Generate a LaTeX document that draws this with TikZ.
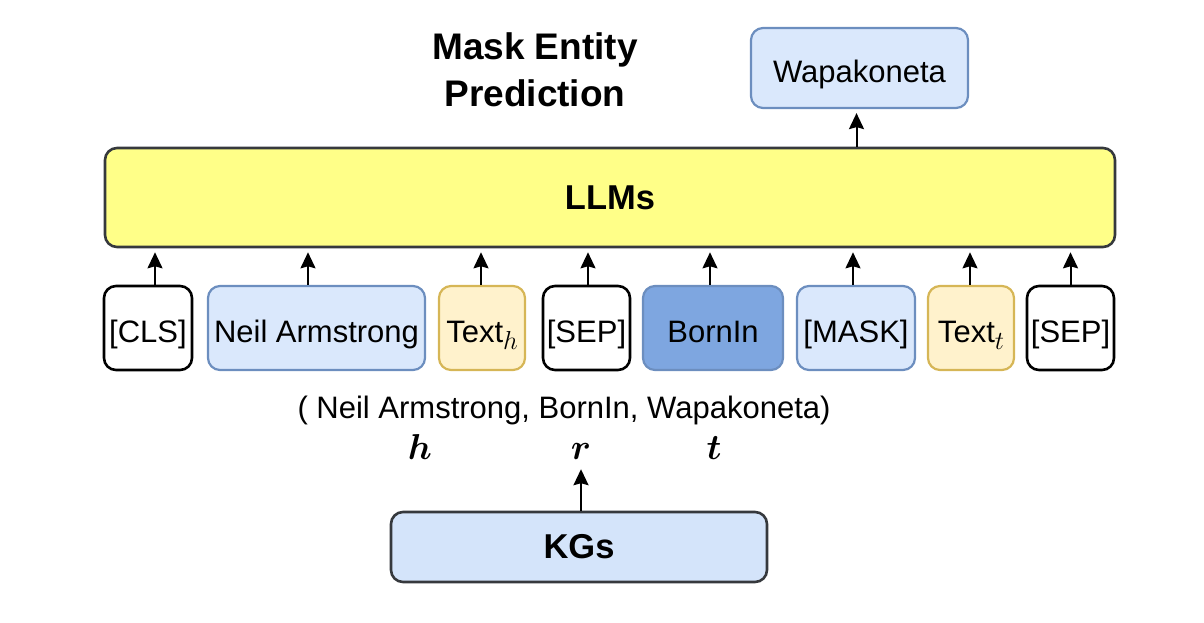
\RequirePackage{fix-cm}
\documentclass[tikz,border=0pt]{standalone}
\usepackage{amsmath}
\usepackage{fontspec}
\setmainfont{Liberation Sans}
\usetikzlibrary{arrows.meta}
\definecolor{llmfill}{HTML}{FFFF88}
\definecolor{darkstroke}{HTML}{36393D}
\definecolor{bluefill}{HTML}{DAE8FC}
\definecolor{bluestroke}{HTML}{6C8EBF}
\definecolor{kgfill}{HTML}{D4E4FA}
\definecolor{darkblue}{HTML}{7EA6E0}
\definecolor{yelfill}{HTML}{FFF2CC}
\definecolor{yelstroke}{HTML}{D6B656}
\newcommand{\subvar}[1]{\raisebox{-7pt}{\fontsize{26}{30}\selectfont$#1$}}
\tikzset{
  box/.style={rounded corners=12pt, inner sep=0pt, font=\fontsize{31}{37}\selectfont},
  tok/.style={box, text height=28pt, text depth=0pt},
  tokblack/.style={tok, draw=black, fill=white, line width=2.6pt},
  tokblue/.style={tok, draw=bluestroke, fill=bluefill, line width=2.2pt},
  tokdark/.style={tok, draw=bluestroke, fill=darkblue, line width=2.2pt},
  tokyel/.style={tok, draw=yelstroke, fill=yelfill, line width=2.2pt},
  bigbox/.style={box, draw=darkstroke, line width=2.6pt, font=\fontsize{34.5}{41}\selectfont\bfseries},
  arr/.style={line width=2pt, -{Stealth[length=16pt,width=15pt,inset=2pt]}, shorten >=4pt},
  lbl/.style={inner sep=0pt, font=\fontsize{31}{37}\selectfont},
  var/.style={inner sep=0pt, font=\fontsize{36}{40}\selectfont},
}
\begin{document}
\begin{tikzpicture}[x=1pt,y=-1pt]
\useasboundingbox (0,0) rectangle (1204,622);
% title
\node[inner sep=0pt, align=center, font=\fontsize{37}{47}\selectfont\bfseries] (title) at (535,70) {Mask Entity\\Prediction};
% LLMs
\node[bigbox, fill=llmfill, minimum width=1010pt, minimum height=99pt] (llm) at (610,197.5) {LLMs};
% output
\node[tokblue, minimum width=217pt, minimum height=80pt] (wapa) at (859.5,68) {Wapakoneta};
\draw[arr] ([xshift=-3pt]llm.north -| wapa) -- ([xshift=-3pt]wapa.south);
% tokens
\node[tokblack, minimum width=88pt, minimum height=84pt] (cls) at (148,328) {[CLS]};
\node[tokblue, minimum width=217pt, minimum height=84pt] (neil) at (316.5,328) {Neil Armstrong};
\node[tokyel, minimum width=86pt, minimum height=84pt] (texth) at (482,328) {Text\subvar{h}};
\node[tokblack, minimum width=87pt, minimum height=84pt] (sepa) at (586.5,328) {[SEP]};
\node[tokdark, minimum width=140pt, minimum height=84pt] (born) at (713,328) {BornIn};
\node[tokblue, minimum width=118pt, minimum height=84pt] (mask) at (856,328) {[MASK]};
\node[tokyel, minimum width=86pt, minimum height=84pt] (textt) at (971,328) {Text\subvar{t}};
\node[tokblack, minimum width=87pt, minimum height=84pt] (sepb) at (1070.5,328) {[SEP]};
% token arrows
\draw[arr] ([xshift=7pt]cls.north) -- ([xshift=7pt]cls.north |- llm.south);
\draw[arr] ([xshift=-8.5pt]neil.north) -- ([xshift=-8.5pt]neil.north |- llm.south);
\draw[arr] ([xshift=-1pt]texth.north) -- ([xshift=-1pt]texth.north |- llm.south);
\draw[arr] ([xshift=1.5pt]sepa.north) -- ([xshift=1.5pt]sepa.north |- llm.south);
\draw[arr] ([xshift=-3pt]born.north) -- ([xshift=-3pt]born.north |- llm.south);
\draw[arr] ([xshift=-3pt]mask.north) -- ([xshift=-3pt]mask.north |- llm.south);
\draw[arr] ([xshift=-1pt]textt.north) -- ([xshift=-1pt]textt.north |- llm.south);
\draw[arr] (sepb.north) -- (sepb.north |- llm.south);
% triple
\node[lbl] (triple) at (564,410) {( Neil Armstrong, BornIn, Wapakoneta)};
\node[var] (h) at (420,447) {$\boldsymbol{h}$};
\node[var] (r) at (581,451) {$\boldsymbol{r}$};
\node[var] (t) at (714,448) {$\boldsymbol{t}$};
% KGs
\node[bigbox, fill=kgfill, minimum width=376pt, minimum height=70pt] (kgs) at (579,547) {KGs};
\draw[arr, shorten >=10pt] (kgs.north -| r) -- (r.south);
\end{tikzpicture}
\end{document}
